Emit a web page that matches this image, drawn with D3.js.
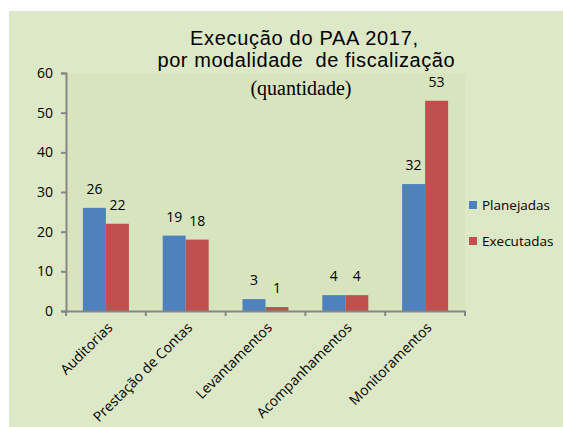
<!DOCTYPE html>
<html>
<head>
<meta charset="utf-8">
<script src="https://cdn.jsdelivr.net/npm/d3@7"></script>
<style>
  body { margin: 0; background: #fff; }
  text { fill: #000; }
</style>
</head>
<body>
<svg id="chart"></svg>
<script>
const categories = ["Auditorias", "Prestação de Contas", "Levantamentos", "Acompanhamentos", "Monitoramentos"];
const planejadas = [26, 19, 3, 4, 32];
const executadas = [22, 18, 1, 4, 53];
const seriesNames = ["Planejadas", "Executadas"];
const yTicks = [0, 10, 20, 30, 40, 50, 60];

const width = 563;
const height = 427;
const margin = { top: 73, right: 98, bottom: 116, left: 66 };
const colors = ["#4f81bd", "#c0504d"];
const labelFont = "'Open Sans', sans-serif";

const svg = d3.select("#chart").attr("width", width).attr("height", height);

// outer chart background
svg.append("rect")
  .attr("x", 9).attr("y", 11)
  .attr("width", width - 9).attr("height", height - 11)
  .attr("fill", "#dde8c6");

// plot area
svg.append("rect")
  .attr("x", margin.left).attr("y", margin.top)
  .attr("width", width - margin.left - margin.right)
  .attr("height", height - margin.top - margin.bottom)
  .attr("fill", "#d8e4bd");

const x = d3.scaleBand()
  .domain(categories)
  .range([margin.left, width - margin.right])
  .paddingInner(0)
  .paddingOuter(0);

const y = d3.scaleLinear()
  .domain([0, 60])
  .range([height - margin.bottom, margin.top]);

const barW = 23;
const groupOffset = (x.bandwidth() - barW * 2) / 2;

const rows = categories.map((c, i) => ({ cat: c, values: [planejadas[i], executadas[i]] }));

const groups = svg.selectAll(".grp")
  .data(rows)
  .join("g")
  .attr("class", "grp")
  .attr("transform", (d) => `translate(${x(d.cat) + groupOffset},0)`);

groups.selectAll("rect")
  .data((d) => d.values.map((v, j) => ({ v, j })))
  .join("rect")
  .attr("x", (d) => d.j * barW)
  .attr("y", (d) => y(d.v))
  .attr("width", barW)
  .attr("height", (d) => y(0) - y(d.v))
  .attr("fill", (d) => colors[d.j]);

groups.selectAll("text.val")
  .data((d) => d.values.map((v, j) => ({ v, j })))
  .join("text")
  .attr("class", "val")
  .attr("x", (d) => d.j * barW + barW / 2)
  .attr("y", (d) => y(d.v) - 19)
  .attr("dy", "0.35em")
  .attr("text-anchor", "middle")
  .style("font-family", labelFont)
  .style("font-size", "14px")
  .text((d) => d.v);

// y axis
const yAxis = svg.append("g")
  .attr("transform", `translate(${margin.left},0)`)
  .call(d3.axisLeft(y).tickValues(yTicks).tickSize(5).tickPadding(8));
yAxis.select(".domain").attr("stroke", "#868686").attr("stroke-width", 2);
yAxis.selectAll(".tick line").attr("stroke", "#868686").attr("stroke-width", 2);
yAxis.selectAll("text")
  .style("font-family", labelFont)
  .style("font-size", "14px")
  .attr("fill", "#000");

// x axis
const xAxis = svg.append("g")
  .attr("transform", `translate(0,${height - margin.bottom})`)
  .call(d3.axisBottom(x).tickSize(0).tickFormat(""));
xAxis.select(".domain").attr("stroke", "#868686").attr("stroke-width", 2);
xAxis.selectAll(".tick").remove();

svg.append("g")
  .selectAll("line")
  .data(d3.range(categories.length + 1))
  .join("line")
  .attr("x1", (i) => margin.left + i * x.bandwidth())
  .attr("x2", (i) => margin.left + i * x.bandwidth())
  .attr("y1", height - margin.bottom)
  .attr("y2", height - margin.bottom + 5)
  .attr("stroke", "#868686")
  .attr("stroke-width", 2);

svg.append("g")
  .selectAll("text")
  .data(categories)
  .join("text")
  .attr("transform", (d) => `translate(${x(d) + x.bandwidth() / 2 + 4},${height - margin.bottom + 14}) rotate(-45)`)
  .attr("text-anchor", "end")
  .attr("dy", "0.35em")
  .style("font-family", labelFont)
  .style("font-size", "14px")
  .text((d) => d);

// title
const title = svg.append("g").style("font-family", "'Liberation Sans', Arial, sans-serif");
title.append("text")
  .attr("x", 304).attr("y", 45)
  .attr("text-anchor", "middle")
  .style("font-size", "20px")
  .attr("textLength", 228)
  .text("Execução do PAA 2017,");
title.append("text")
  .attr("x", 306).attr("y", 67)
  .attr("text-anchor", "middle")
  .style("font-size", "20px")
  .style("white-space", "pre")
  .attr("textLength", 297)
  .text("por modalidade  de fiscalização");
svg.append("text")
  .attr("x", 301).attr("y", 95)
  .attr("text-anchor", "middle")
  .style("font-family", "'Liberation Serif', 'Times New Roman', serif")
  .style("font-size", "20px")
  .text("(quantidade)");

// legend
const legend = svg.append("g")
  .selectAll("g")
  .data(seriesNames)
  .join("g")
  .attr("transform", (d, i) => `translate(469,${201 + i * 36})`);
legend.append("rect")
  .attr("width", 8).attr("height", 8)
  .attr("fill", (d, i) => colors[i]);
legend.append("text")
  .attr("x", 13).attr("y", 4)
  .attr("dy", "0.35em")
  .style("font-family", labelFont)
  .style("font-size", "13.5px")
  .text((d) => d);
</script>
</body>
</html>
